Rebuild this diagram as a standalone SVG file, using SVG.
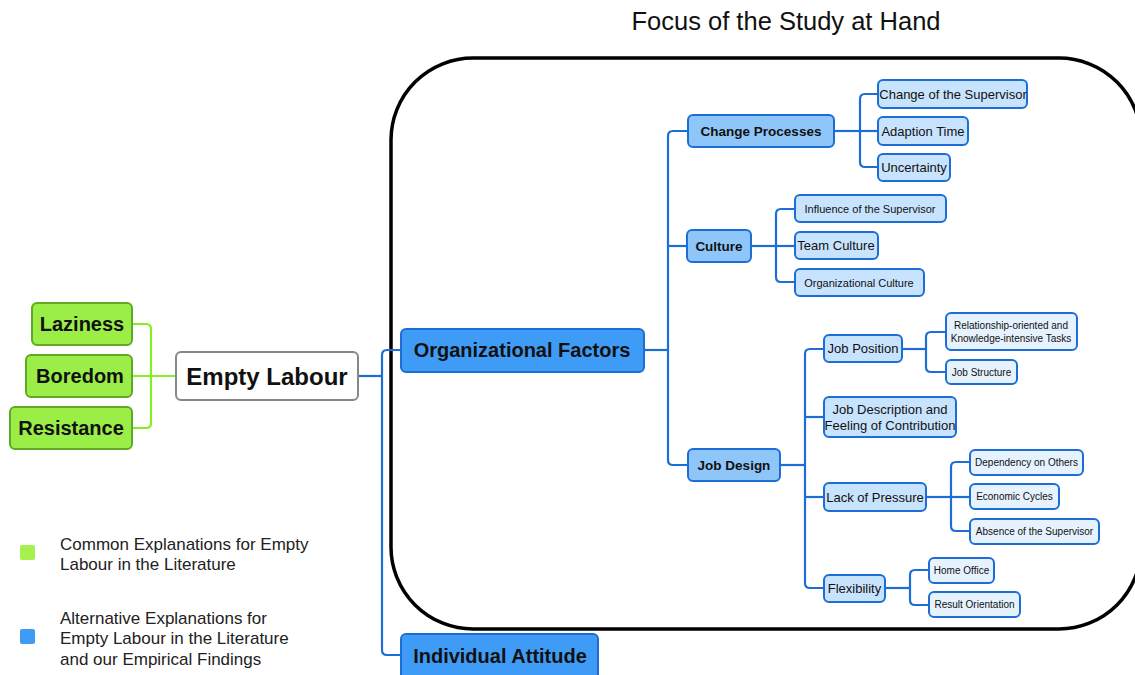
<svg xmlns="http://www.w3.org/2000/svg" width="1135" height="675" viewBox="0 0 1135 675">
<style>
text{font-family:"Liberation Sans",Arial,sans-serif;fill:#111;}
.g rect{fill:#9bee48;stroke:#5faa22;stroke-width:2;}
.g text{font-weight:bold;font-size:20px;}
.b1 rect{fill:#3f9cf6;stroke:#1c6ed6;stroke-width:2;}
.b1 text{font-weight:bold;font-size:20px;}
.b2 rect{fill:#8fc6f9;stroke:#1c6ed6;stroke-width:2;}
.b2 text{font-weight:bold;font-size:13.5px;}
.b3 rect{fill:#c8e3fd;stroke:#1c6ed6;stroke-width:2;}
.b3 text{font-size:13px;}
.b4 rect{fill:#e6f2fe;stroke:#1c6ed6;stroke-width:2;}
.b4 text{font-size:10px;}
.s text{font-size:11px;}
.cb path{fill:none;stroke:#1c6ed6;stroke-width:2.2;}
.cg path{fill:none;stroke:#86ec24;stroke-width:2.2;}
.leg{font-size:17px;fill:#222;}
</style>
<rect width="1135" height="675" fill="#fff"/>
<text x="786" y="30" font-size="25.5" text-anchor="middle">Focus of the Study at Hand</text>
<rect x="391" y="58" width="750" height="571" rx="82" fill="none" stroke="#000" stroke-width="3.5"/>

<g id="connectors">
<g class="cg">
<path d="M133,324 H146 Q151,324 151,329 V423 Q151,428 146,428 H133"/>
<path d="M133,376 H176"/>
</g>
<g class="cb">
<path d="M358,376 H382"/>
<path d="M382,376 V355 Q382,350 387,350 H401"/>
<path d="M382,376 V650 Q382,655 387,655 H401"/>
<path d="M644,350 H668"/>
<path d="M668,350 V136 Q668,131 673,131 H688"/>
<path d="M668,246 H687"/>
<path d="M668,350 V460 Q668,465 673,465 H688"/>
<path d="M834,131 H860"/>
<path d="M860,131 V99 Q860,94 865,94 H878"/>
<path d="M860,131 H878"/>
<path d="M860,131 V162 Q860,167 865,167 H878"/>
<path d="M751,246 H776"/>
<path d="M776,246 V214 Q776,209 781,209 H795"/>
<path d="M776,246 H795"/>
<path d="M776,246 V277 Q776,282 781,282 H795"/>
<path d="M780,465 H805"/>
<path d="M805,465 V354 Q805,349 810,349 H824"/>
<path d="M805,417 H824"/>
<path d="M805,497 H824"/>
<path d="M805,465 V583 Q805,588 810,588 H824"/>
<path d="M902,349 H926"/>
<path d="M926,349 V337 Q926,332 931,332 H946"/>
<path d="M926,349 V367 Q926,372 931,372 H946"/>
<path d="M926,497 H951"/>
<path d="M951,497 V467 Q951,462 956,462 H970"/>
<path d="M951,497 H970"/>
<path d="M951,497 V526 Q951,531 956,531 H970"/>
<path d="M885,588 H910"/>
<path d="M910,588 V575 Q910,570 915,570 H929"/>
<path d="M910,588 V600 Q910,605 915,605 H929"/>
</g>
</g>

<g id="laziness" class="g"><rect x="32" y="303" width="100" height="42" rx="5"/><text x="82" y="331" text-anchor="middle">Laziness</text></g>
<g id="boredom" class="g"><rect x="26" y="355" width="106" height="42" rx="5"/><text x="80" y="383" text-anchor="middle">Boredom</text></g>
<g id="resistance" class="g"><rect x="10" y="407" width="122" height="42" rx="5"/><text x="71" y="435" text-anchor="middle">Resistance</text></g>

<g id="empty-labour"><rect x="176" y="352" width="182" height="48" rx="5" fill="#fff" stroke="#888" stroke-width="2"/><text x="267" y="385" text-anchor="middle" font-size="24" font-weight="bold">Empty Labour</text></g>

<g id="org-factors" class="b1"><rect x="401" y="329" width="243" height="43" rx="5"/><text x="522" y="357" text-anchor="middle">Organizational Factors</text></g>
<g id="individual-attitude" class="b1"><rect x="401" y="634" width="197" height="46" rx="5"/><text x="500" y="663" text-anchor="middle">Individual Attitude</text></g>

<g id="change-processes" class="b2"><rect x="688" y="115" width="146" height="32" rx="5"/><text x="761" y="136" text-anchor="middle">Change Processes</text></g>
<g id="culture" class="b2"><rect x="687" y="230" width="64" height="32" rx="5"/><text x="719" y="251" text-anchor="middle">Culture</text></g>
<g id="job-design" class="b2"><rect x="688" y="449" width="92" height="32" rx="5"/><text x="734" y="470" text-anchor="middle">Job Design</text></g>

<g id="change-supervisor" class="b3"><rect x="878" y="80" width="149" height="28" rx="5"/><text x="953" y="99" text-anchor="middle">Change of the Supervisor</text></g>
<g id="adaption-time" class="b3"><rect x="878" y="117" width="90" height="28" rx="5"/><text x="923" y="136" text-anchor="middle">Adaption Time</text></g>
<g id="uncertainty" class="b3"><rect x="878" y="154" width="72" height="27" rx="5"/><text x="914" y="172" text-anchor="middle">Uncertainty</text></g>

<g id="influence-supervisor" class="b3 s"><rect x="795" y="195" width="151" height="27" rx="5"/><text x="870" y="213" text-anchor="middle">Influence of the Supervisor</text></g>
<g id="team-culture" class="b3"><rect x="795" y="232" width="83" height="27" rx="5"/><text x="836" y="250" text-anchor="middle">Team Culture</text></g>
<g id="organizational-culture" class="b3 s"><rect x="795" y="269" width="129" height="27" rx="5"/><text x="859" y="287" text-anchor="middle">Organizational Culture</text></g>

<g id="job-position" class="b3"><rect x="824" y="335" width="78" height="27" rx="5"/><text x="863" y="353" text-anchor="middle">Job Position</text></g>
<g id="job-description" class="b3"><rect x="824" y="397" width="132" height="40" rx="5"/><text x="890" y="414" text-anchor="middle">Job Description and</text><text x="890" y="430" text-anchor="middle">Feeling of Contribution</text></g>
<g id="lack-pressure" class="b3"><rect x="824" y="483" width="102" height="28" rx="5"/><text x="875" y="502" text-anchor="middle">Lack of Pressure</text></g>
<g id="flexibility" class="b3"><rect x="824" y="575" width="61" height="27" rx="5"/><text x="854.5" y="593" text-anchor="middle" font-size="12.5">Flexibility</text></g>

<g id="relationship" class="b4"><rect x="946" y="313" width="131" height="37" rx="5"/><text x="1011" y="329" text-anchor="middle">Relationship-oriented and</text><text x="1011" y="342" text-anchor="middle">Knowledge-intensive Tasks</text></g>
<g id="job-structure" class="b4"><rect x="946" y="360" width="71" height="24" rx="5"/><text x="981.5" y="376" text-anchor="middle">Job Structure</text></g>

<g id="dependency" class="b4"><rect x="970" y="450" width="113" height="25" rx="5"/><text x="1026.5" y="466" text-anchor="middle">Dependency on Others</text></g>
<g id="economic-cycles" class="b4"><rect x="970" y="484" width="89" height="25" rx="5"/><text x="1014.5" y="500" text-anchor="middle">Economic Cycles</text></g>
<g id="absence-supervisor" class="b4"><rect x="970" y="519" width="129" height="25" rx="5"/><text x="1034.5" y="535" text-anchor="middle">Absence of the Supervisor</text></g>

<g id="home-office" class="b4"><rect x="929" y="558" width="65" height="25" rx="5"/><text x="961.5" y="574" text-anchor="middle">Home Office</text></g>
<g id="result-orientation" class="b4"><rect x="929" y="592" width="91" height="25" rx="5"/><text x="974.5" y="608" text-anchor="middle">Result Orientation</text></g>

<g id="legend">
<rect x="20" y="545" width="15" height="15" rx="2" fill="#a6f04f"/>
<text class="leg" x="60" y="550">Common Explanations for Empty</text>
<text class="leg" x="60" y="570">Labour in the Literature</text>
<rect x="20" y="629" width="15" height="15" rx="2" fill="#3f9cf6"/>
<text class="leg" x="60" y="624">Alternative Explanations for</text>
<text class="leg" x="60" y="644">Empty Labour in the Literature</text>
<text class="leg" x="60" y="665">and our Empirical Findings</text>
</g>
</svg>
